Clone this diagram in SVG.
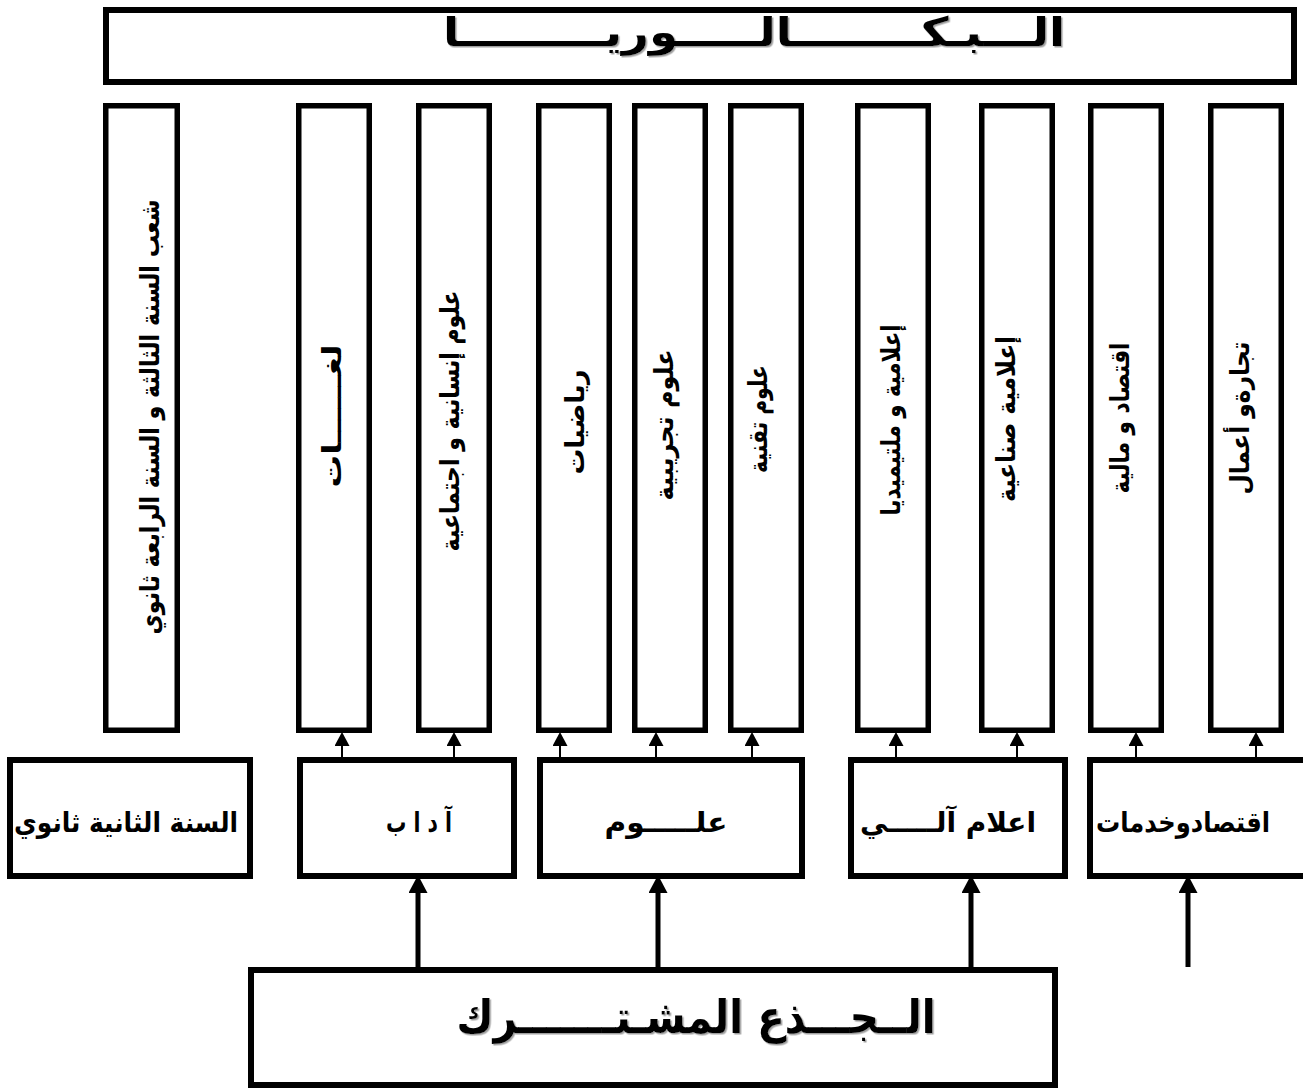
<svg xmlns="http://www.w3.org/2000/svg" width="1303" height="1090" viewBox="0 0 1303 1090">
  <style>
    .box { fill: #ffffff; stroke: #000000; stroke-width: 6; }
    .col { fill: #ffffff; stroke: #000000; stroke-width: 5.5; }
    .t { font-family: "DejaVu Sans", "Noto Sans", sans-serif; font-weight: bold; fill: #000000; text-anchor: middle; }
    .title { font-size: 40px; }
    .big { font-size: 46px; }
    .lbl { font-size: 28px; }
    .vt { font-size: 26px; dominant-baseline: central; }
    .sl { stroke: #000000; stroke-width: 2; fill: none; }
    .bl { stroke: #000000; stroke-width: 5; fill: none; }
  </style>
  <defs>
    <marker id="sa" markerUnits="userSpaceOnUse" markerWidth="14" markerHeight="15" refX="0" refY="7" orient="auto" viewBox="0 0 13 14">
      <path d="M0,0 L13,7 L0,14 z" fill="#000000"/>
    </marker>
    <marker id="ba" markerUnits="userSpaceOnUse" markerWidth="18" markerHeight="19" refX="0" refY="9" orient="auto" viewBox="0 0 17 18">
      <path d="M0,0 L17,9 L0,18 z" fill="#000000"/>
    </marker>
    <filter id="sh" x="-5%" y="-20%" width="110%" height="140%">
      <feDropShadow dx="1.5" dy="1.5" stdDeviation="0.4" flood-color="#888888" flood-opacity="0.8"/>
    </filter>
  </defs>
  <rect x="0" y="0" width="1303" height="1090" fill="#ffffff"/>

  <g id="bac">
    <rect class="box" x="106" y="10" width="1188" height="72"/>
    <text class="t title" x="754" y="46" textLength="622" lengthAdjust="spacingAndGlyphs" filter="url(#sh)">الـــبـكــــــــالـــــوريـــــــــا</text>
  </g>

  <g id="col1">
    <rect class="col" x="105.75" y="105.75" width="71.5" height="624.5"/>
    <text class="t vt" transform="translate(150 417) rotate(-90)" textLength="435" lengthAdjust="spacingAndGlyphs">شعب السنة الثالثة و  السنة الرابعة ثانوي</text>
  </g>
  <g id="col2">
    <rect class="col" x="298.75" y="105.75" width="70.5" height="624.5"/>
    <text class="t vt" transform="translate(332 416) rotate(-90)" textLength="143" lengthAdjust="spacingAndGlyphs">لغــــــات</text>
  </g>
  <g id="col3">
    <rect class="col" x="418.75" y="105.75" width="70.5" height="624.5"/>
    <text class="t vt" transform="translate(450 421) rotate(-90)" textLength="261" lengthAdjust="spacingAndGlyphs">علوم إنسانية و اجتماعية</text>
  </g>
  <g id="col4">
    <rect class="col" x="538.75" y="105.75" width="70.5" height="624.5"/>
    <text class="t vt" transform="translate(575 422) rotate(-90)" textLength="105" lengthAdjust="spacingAndGlyphs">رياضيات</text>
  </g>
  <g id="col5">
    <rect class="col" x="634.75" y="105.75" width="70.5" height="624.5"/>
    <text class="t vt" transform="translate(664 425) rotate(-90)" textLength="151" lengthAdjust="spacingAndGlyphs">علوم تجريبية</text>
  </g>
  <g id="col6">
    <rect class="col" x="730.75" y="105.75" width="70.5" height="624.5"/>
    <text class="t vt" transform="translate(758 419) rotate(-90)" textLength="108" lengthAdjust="spacingAndGlyphs">علوم تقنية</text>
  </g>
  <g id="col7">
    <rect class="col" x="857.75" y="105.75" width="70.5" height="624.5"/>
    <text class="t vt" transform="translate(891 420) rotate(-90)" textLength="191" lengthAdjust="spacingAndGlyphs">إعلامية و ملتيميديا</text>
  </g>
  <g id="col8">
    <rect class="col" x="981.75" y="105.75" width="70.5" height="624.5"/>
    <text class="t vt" transform="translate(1006 419) rotate(-90)" textLength="166" lengthAdjust="spacingAndGlyphs">إعلامية صناعية</text>
  </g>
  <g id="col9">
    <rect class="col" x="1090.75" y="105.75" width="70.5" height="624.5"/>
    <text class="t vt" transform="translate(1120 418) rotate(-90)" textLength="151" lengthAdjust="spacingAndGlyphs">اقتصاد و مالية</text>
  </g>
  <g id="col10">
    <rect class="col" x="1210.75" y="105.75" width="70.5" height="624.5"/>
    <text class="t vt" transform="translate(1240 418) rotate(-90)" textLength="153" lengthAdjust="spacingAndGlyphs">تجارةو أعمال</text>
  </g>

  <g id="second-year">
    <rect class="box" x="10" y="760" width="240" height="116"/>
    <text class="t lbl" x="126" y="832" textLength="224" lengthAdjust="spacingAndGlyphs">السنة الثانية ثانوي</text>
  </g>
  <g id="adab">
    <rect class="box" x="300" y="760" width="214" height="116"/>
    <text class="t lbl" x="419" y="832" textLength="66" lengthAdjust="spacingAndGlyphs">آ د ا ب</text>
  </g>
  <g id="ouloum">
    <rect class="box" x="540" y="760" width="262" height="116"/>
    <text class="t lbl" x="666" y="832" textLength="123" lengthAdjust="spacingAndGlyphs">علـــــوم</text>
  </g>
  <g id="ilam">
    <rect class="box" x="851" y="760" width="214" height="116"/>
    <text class="t lbl" x="948" y="832" textLength="176" lengthAdjust="spacingAndGlyphs">اعلام آلـــــي</text>
  </g>
  <g id="iqtisad">
    <rect class="box" x="1090" y="760" width="220" height="116"/>
    <text class="t lbl" x="1183" y="832" textLength="174" lengthAdjust="spacingAndGlyphs">اقتصادوخدمات</text>
  </g>

  <g id="tronc-commun">
    <rect class="box" x="251" y="970" width="804" height="115"/>
    <text class="t big" x="696" y="1033" textLength="479" lengthAdjust="spacingAndGlyphs" filter="url(#sh)">الــجـــذع المشـتـــــــرك</text>
  </g>

  <g id="connectors">
    <line class="sl" x1="342" y1="757" x2="342" y2="746" marker-end="url(#sa)"/>
    <line class="sl" x1="454" y1="757" x2="454" y2="746" marker-end="url(#sa)"/>
    <line class="sl" x1="560" y1="757" x2="560" y2="746" marker-end="url(#sa)"/>
    <line class="sl" x1="656" y1="757" x2="656" y2="746" marker-end="url(#sa)"/>
    <line class="sl" x1="752" y1="757" x2="752" y2="746" marker-end="url(#sa)"/>
    <line class="sl" x1="896" y1="757" x2="896" y2="746" marker-end="url(#sa)"/>
    <line class="sl" x1="1017" y1="757" x2="1017" y2="746" marker-end="url(#sa)"/>
    <line class="sl" x1="1136" y1="757" x2="1136" y2="746" marker-end="url(#sa)"/>
    <line class="sl" x1="1256" y1="757" x2="1256" y2="746" marker-end="url(#sa)"/>
    <line class="bl" x1="418" y1="967" x2="418" y2="893" marker-end="url(#ba)"/>
    <line class="bl" x1="658" y1="967" x2="658" y2="893" marker-end="url(#ba)"/>
    <line class="bl" x1="971" y1="967" x2="971" y2="893" marker-end="url(#ba)"/>
    <line class="bl" x1="1188" y1="967" x2="1188" y2="893" marker-end="url(#ba)"/>
  </g>
</svg>
